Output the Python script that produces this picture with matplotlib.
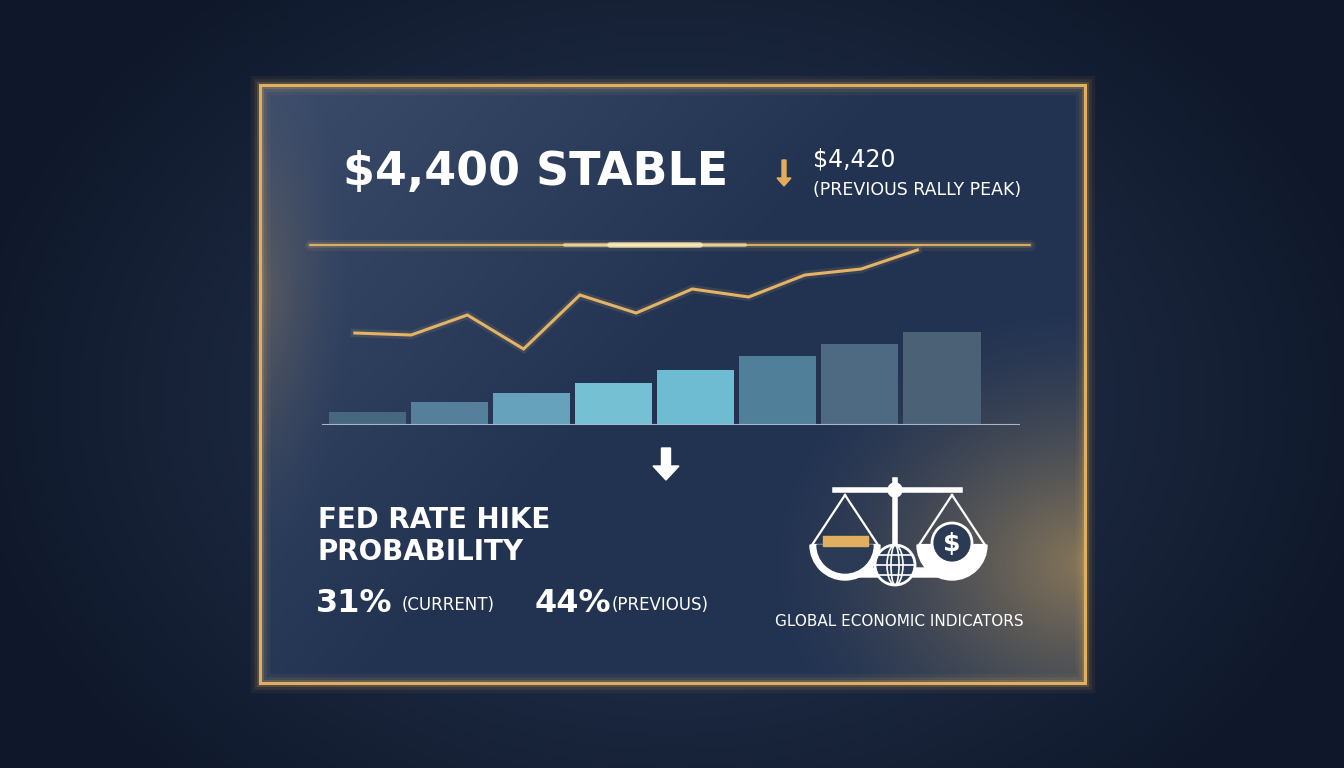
import numpy as np
import matplotlib
matplotlib.use("Agg")
import matplotlib.pyplot as plt
from matplotlib.patches import Rectangle, Polygon, Circle, FancyArrow, Wedge, Ellipse

# ---- data ----
bar_values = [13, 23, 32, 42, 55, 69, 81, 93]
bar_colors = ["#47677f", "#557f9a", "#66a2bb", "#76c0d4", "#6dbcd1", "#4f7f99", "#4d6a82", "#4b6176"]
line_values = [92, 90, 110, 76, 130, 112, 136, 128, 150, 156, 175]
title = "$4,400 STABLE"
peak_value = "$4,420"
peak_label = "(PREVIOUS RALLY PEAK)"
prob_current = "31%"
prob_previous = "44%"

W, H = 1344, 768
fig = plt.figure(figsize=(W/100, H/100), dpi=100)
ax = fig.add_axes([0, 0, 1, 1])
ax.set_xlim(0, W); ax.set_ylim(H, 0); ax.axis("off")

# background radial gradient
yy, xx = np.mgrid[0:H, 0:W]
r = np.sqrt(((xx-672)/800)**2 + ((yy-400)/600)**2)
c0 = np.array([0x2a, 0x3a, 0x58])/255; c1 = np.array([0x0f, 0x18, 0x2a])/255
t = np.clip(r/0.9, 0, 1)[..., None]
bg = c0*(1-t) + c1*t
ax.imshow(bg, extent=[0, W, H, 0], zorder=0)

# panel fill with gloss and warm corner
px0, py0, px1, py1 = 260, 85, 1085, 683
pw, ph = px1-px0, py1-py0
gy, gx = np.mgrid[0:ph, 0:pw]
base = np.array([0x22, 0x33, 0x52])/255
img = np.tile(base, (ph, pw, 1)).astype(float)
d = gx + gy*0.9
gloss = np.clip(1 - d/650, 0, 1)*0.10
img += gloss[..., None]*np.array([1, 1, 1])
gr = np.sqrt(((gx-pw)/320)**2 + ((gy-ph*0.8)/260)**2)
warm = np.clip(1-gr, 0, 1)**1.5*0.55
img = img*(1-warm[..., None]) + warm[..., None]*np.array([0.85, 0.68, 0.38])
gl = np.sqrt(((gx)/90)**2 + ((gy-ph*0.35)/260)**2)
warm2 = np.clip(1-gl, 0, 1)**1.5*0.25
img = img*(1-warm2[..., None]) + warm2[..., None]*np.array([0.8, 0.62, 0.35])
ax.imshow(np.clip(img, 0, 1), extent=[px0, px1, py1, py0], zorder=1)

# gold border with glow
for lw, a in [(14, 0.06), (9, 0.1), (5, 0.2), (2.2, 1.0)]:
    ax.add_patch(Rectangle((px0, py0), pw, ph, fill=False, ec="#e0b060", lw=lw, alpha=a, zorder=2))

# glowing horizontal gold line
for lw, a in [(8, 0.08), (4, 0.2), (1.5, 0.9)]:
    ax.plot([310, 1030], [245, 245], color="#e7b865", lw=lw, alpha=a, zorder=3, solid_capstyle="round")
for hw, lw, a in [(90, 3, 0.5), (45, 4, 0.7)]:
    ax.plot([655-hw, 655+hw], [245, 245], color="#fff0c0", lw=lw, alpha=a, zorder=3, solid_capstyle="round")

# title texts
ax.text(343, 172, title, color="white", fontsize=33, fontweight="bold", va="center", ha="left", zorder=5)
ax.add_patch(FancyArrow(784, 160, 0, 18, width=4, head_width=14, head_length=8, color="#e2ad5b", zorder=5))
ax.text(813, 160, peak_value, color="white", fontsize=17, va="center", ha="left", zorder=5)
ax.text(813, 190, peak_label, color="white", fontsize=12.5, va="center", ha="left", zorder=5)

# chart axes: bars + line
cax = fig.add_axes([322/W, 1-425/H, (1020-322)/W, (425-240)/H])
cax.set_xlim(-0.55, 7.95); cax.set_ylim(0, 185); cax.axis("off"); cax.patch.set_alpha(0)
cax.bar(np.arange(len(bar_values)), bar_values, width=0.94, color=bar_colors, zorder=2)
cax.plot([-0.6, 8.0], [0, 0], color="#a8b8c8", lw=1.5, zorder=3)
lx = np.linspace(-0.15, 6.70, len(line_values))
for lw, a in [(6, 0.12), (2.2, 1.0)]:
    cax.plot(lx, line_values, color="#e3b466", lw=lw, alpha=a, zorder=4, solid_joinstyle="miter")

# white down arrow
ax.add_patch(FancyArrow(666, 448, 0, 18, width=9, head_width=26, head_length=14, color="white", zorder=5))

# Fed probability
ax.text(318, 520, "FED RATE HIKE", color="white", fontsize=20, fontweight="bold", va="center", zorder=5)
ax.text(318, 552, "PROBABILITY", color="white", fontsize=20, fontweight="bold", va="center", zorder=5)
ax.text(316, 603, prob_current, color="white", fontsize=23, fontweight="bold", va="center", zorder=5)
ax.text(402, 605, "(CURRENT)", color="white", fontsize=12, va="center", zorder=5)
ax.text(535, 603, prob_previous, color="white", fontsize=23, fontweight="bold", va="center", zorder=5)
ax.text(612, 605, "(PREVIOUS)", color="white", fontsize=12, va="center", zorder=5)

# scale icon
wc = "white"
ax.plot([835, 960], [490, 490], color=wc, lw=4, zorder=5)
ax.plot([895, 895], [480, 570], color=wc, lw=4, zorder=5)
ax.add_patch(Circle((895, 490), 7, color=wc, zorder=6))
ax.add_patch(Polygon([[850, 577], [940, 577], [930, 568], [860, 568]], color=wc, zorder=5))
for cx in [845, 952]:
    ax.plot([cx, cx-33, cx+33, cx], [495, 545, 545, 495], color=wc, lw=1.6, zorder=5)
    ax.add_patch(Wedge((cx, 545), 35, 0, 180, color=wc, zorder=5))
ax.add_patch(Wedge((845, 545), 28, 0, 180, color="#2b3a55", zorder=6))
ax.add_patch(Rectangle((823, 536), 45, 10, color="#e0b060", zorder=7))
ax.add_patch(Circle((952, 543), 20, color="#2b3a55", ec=wc, lw=2, zorder=7))
ax.text(952, 544, "$", color="white", fontsize=18, fontweight="bold", ha="center", va="center", zorder=8)
ax.add_patch(Circle((895, 565), 20, color="#2b3a55", ec=wc, lw=2, zorder=8))
for e in [8, 16]:
    ax.add_patch(Ellipse((895, 565), e, 40, fill=False, ec=wc, lw=1.2, zorder=9))
for yo in [-10, 0, 10]:
    hw = np.sqrt(max(400 - yo**2, 0))
    ax.plot([895-hw, 895+hw], [565+yo, 565+yo], color=wc, lw=1.2, zorder=9)
ax.text(899, 621, "GLOBAL ECONOMIC INDICATORS", color="white", fontsize=11, ha="center", va="center", zorder=5)

fig.savefig("out.png", dpi=100)
